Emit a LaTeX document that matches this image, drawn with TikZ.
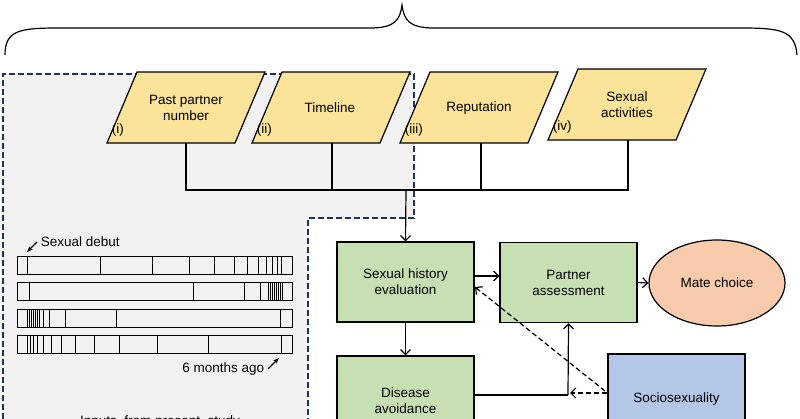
\documentclass[tikz,border=0pt]{standalone}
\usepackage{fontspec}
\setmainfont{Liberation Sans}
\usetikzlibrary{arrows.meta,shapes.geometric}
\definecolor{para}{HTML}{FBE39A}
\definecolor{grn}{HTML}{C6E0B4}
\definecolor{blu}{HTML}{B4C7E7}
\definecolor{org}{HTML}{F8CBAD}
\definecolor{navy}{HTML}{1F3358}
\begin{document}
\begin{tikzpicture}[x=1pt,y=-1pt,
  line width=1.2pt,
  lbl/.style={font=\fontsize{13.5}{16}\selectfont,align=center},
  box/.style={draw,fill=grn,minimum width=137pt,minimum height=80pt,lbl},
  arr/.style={line width=1.2pt,-{Straight Barb[length=5pt,width=10pt,line width=1.2pt]}},
  pshape/.style={draw,fill=para}]
\useasboundingbox (0,0) rectangle (800,419);
% brace
\draw (5,55) .. controls (5,30) and (20,28) .. (60,28) -- (370,28) .. controls (395,28) and (400,20) .. (402,5)
  .. controls (404,20) and (409,28) .. (434,28) -- (740,28) .. controls (780,28) and (795,30) .. (797,55);
% dashed region
\draw[navy,line width=1.8pt,dash pattern=on 6pt off 3pt,fill=gray!10] (3,419) -- (3,74) -- (414,74) -- (414,218) -- (308,218) -- (308,421);
% parallelograms
\draw[pshape] (107,143) -- (137,72) -- (265,72) -- (235,143) -- cycle;
\draw[pshape] (252,143) -- (282,72) -- (410,72) -- (380,143) -- cycle;
\draw[pshape] (400,143) -- (430,72) -- (558,72) -- (528,143) -- cycle;
\draw[pshape] (548,140) -- (578,69) -- (706,69) -- (676,140) -- cycle;
\node[lbl] (p1) at (186,108) {Past partner\\number};
\node[lbl] (p2) at (330,108) {Timeline};
\node[lbl] (p3) at (479,108) {Reputation};
\node[lbl] (p4) at (627,105) {Sexual\\activities};
\node[lbl,anchor=west] at (108,130) {(i)};
\node[lbl,anchor=west] at (253,130) {(ii)};
\node[lbl,anchor=west] at (401,130) {(iii)};
\node[lbl,anchor=west] at (549,127) {(iv)};
\coordinate (b1) at (186,143); \coordinate (b2) at (332,143);
\coordinate (b3) at (481,143); \coordinate (b4) at (628,140);
\draw (b1) |- (406,190) -| (b4);
\draw (b2) -- (332,190);
\draw (b3) -- (481,190);
% boxes
\node[box] (she) at (405.5,282) {Sexual history\\evaluation};
\node[box] (pa) at (568.5,282.5) {Partner\\assessment};
\node[draw,fill=org,ellipse,minimum width=136pt,minimum height=86pt,lbl] (mc) at (717,283) {Mate choice};
\node[box,minimum height=90pt] (da) at (405.5,401) {Disease\\avoidance};
\node[box,fill=blu,minimum height=90pt] (ss) at (676.5,399) {Sociosexuality};
\coordinate (bus) at (406,190);
\draw[arr] (bus) -- (she.north);
\draw[arr] (she.east |- 0,276) -- (pa.west |- 0,276);
\draw[arr] (pa.east) -- (mc.west);
\draw[arr] (she.south) -- (da.north);
\coordinate (j) at (568,395);
\draw (da.east |- j) -- (j);
\draw[arr] (j) -- (pa.south);
\draw[arr,dash pattern=on 5pt off 3pt] (ss.west |- 0,393) -- (570,393);
\draw[arr,dash pattern=on 5pt off 3pt] (605,391) -- (475,287);
% timelines
\foreach \y/\ticks in {256/{27,100,152,189,214,234,247,258,266,272,277,281},
  282/{29,193,244,260,268,270,272,274,276,278,280,282},
  309/{27,29,31,33,35,37,39,43,49,65,116,280},
  335/{27,30,33,37,43,51,61,75,94,119,157,208,281}}{
  \draw[line width=0.8pt] (17,\y) rectangle (292,\y+18);
  \foreach \t in \ticks {\draw[line width=0.8pt] (\t,\y) -- (\t,\y+18);}
}
\node[lbl,anchor=west] (sd) at (37,242) {Sexual debut};
\draw[-{Stealth[length=6pt]}] (sd.west) -- (27,252);
\node[lbl,anchor=east] (sm) at (268,369) {6 months ago};
\draw[-{Stealth[length=6pt]}] (sm.east) -- (279,358);
\node[lbl] at (160,422) {Inputs\ \ from present\ \ study};
\end{tikzpicture}
\end{document}
